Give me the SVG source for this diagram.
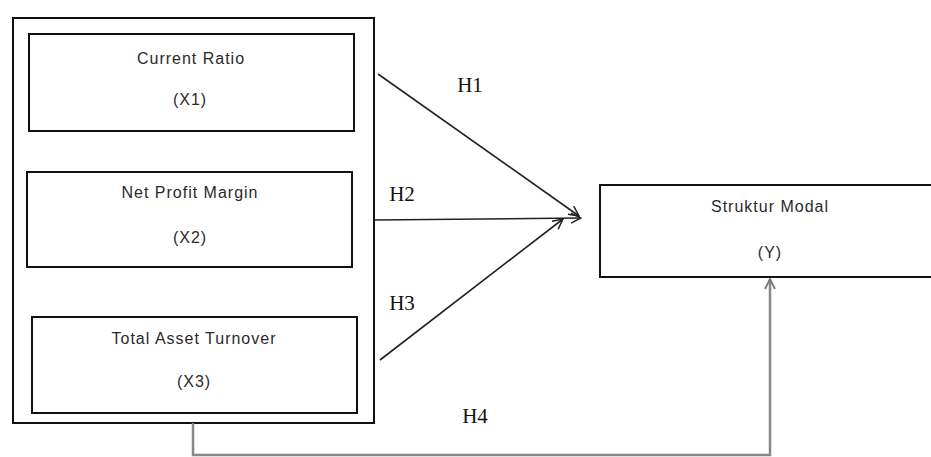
<svg xmlns="http://www.w3.org/2000/svg" width="931" height="457" viewBox="0 0 931 457">
<style>
.box{fill:#fff;stroke:#111;stroke-width:2}
.lbl{font-family:"Liberation Sans",Arial,sans-serif;font-size:16px;letter-spacing:1px;fill:#2a2a2a;text-anchor:middle}
.h{font-family:"Liberation Serif","Times New Roman",serif;font-size:21px;fill:#111;text-anchor:middle}
.c{fill:none;stroke:#222;stroke-width:1.6}
.g{fill:none;stroke:#888;stroke-width:2.5}
</style>
<defs>
<marker id="ah" viewBox="0 0 12 12" refX="11" refY="6" markerWidth="12" markerHeight="12" markerUnits="userSpaceOnUse" orient="auto">
<path d="M1,1 L11,6 L1,11" fill="none" stroke="#222" stroke-width="1.5"/>
</marker>
<marker id="ahg" viewBox="0 0 12 12" refX="11" refY="6" markerWidth="12" markerHeight="12" markerUnits="userSpaceOnUse" orient="auto">
<path d="M1,1 L11,6 L1,11" fill="none" stroke="#777" stroke-width="1.8"/>
</marker>
</defs>
<rect width="931" height="457" fill="#fff"/>
<g id="outer"><rect class="box" x="13" y="18" width="361" height="405"/></g>
<g id="x1"><rect class="box" x="29" y="34" width="325" height="97"/>
<text class="lbl" x="191" y="64">Current Ratio</text>
<text class="lbl" x="190" y="105">(X1)</text></g>
<g id="x2"><rect class="box" x="27" y="172" width="325" height="95"/>
<text class="lbl" x="190" y="198">Net Profit Margin</text>
<text class="lbl" x="190" y="243">(X2)</text></g>
<g id="x3"><rect class="box" x="32" y="317" width="325" height="96"/>
<text class="lbl" x="194" y="344">Total Asset Turnover</text>
<text class="lbl" x="194" y="387">(X3)</text></g>
<g id="y"><rect class="box" x="600" y="185" width="340" height="92"/>
<text class="lbl" x="770" y="212">Struktur Modal</text>
<text class="lbl" x="770" y="258">(Y)</text></g>
<g id="connectors">
<line class="c" x1="378" y1="74" x2="579" y2="216" marker-end="url(#ah)"/>
<line class="c" x1="374" y1="220" x2="581" y2="218" marker-end="url(#ah)"/>
<line class="c" x1="380" y1="360" x2="563" y2="219" marker-end="url(#ah)"/>
<polyline class="g" points="193,423 193,455 770,455 770,279" marker-end="url(#ahg)"/>
</g>
<g id="labels">
<text class="h" x="470" y="92">H1</text>
<text class="h" x="402" y="201">H2</text>
<text class="h" x="402" y="310">H3</text>
<text class="h" x="475" y="423">H4</text>
</g>
</svg>
